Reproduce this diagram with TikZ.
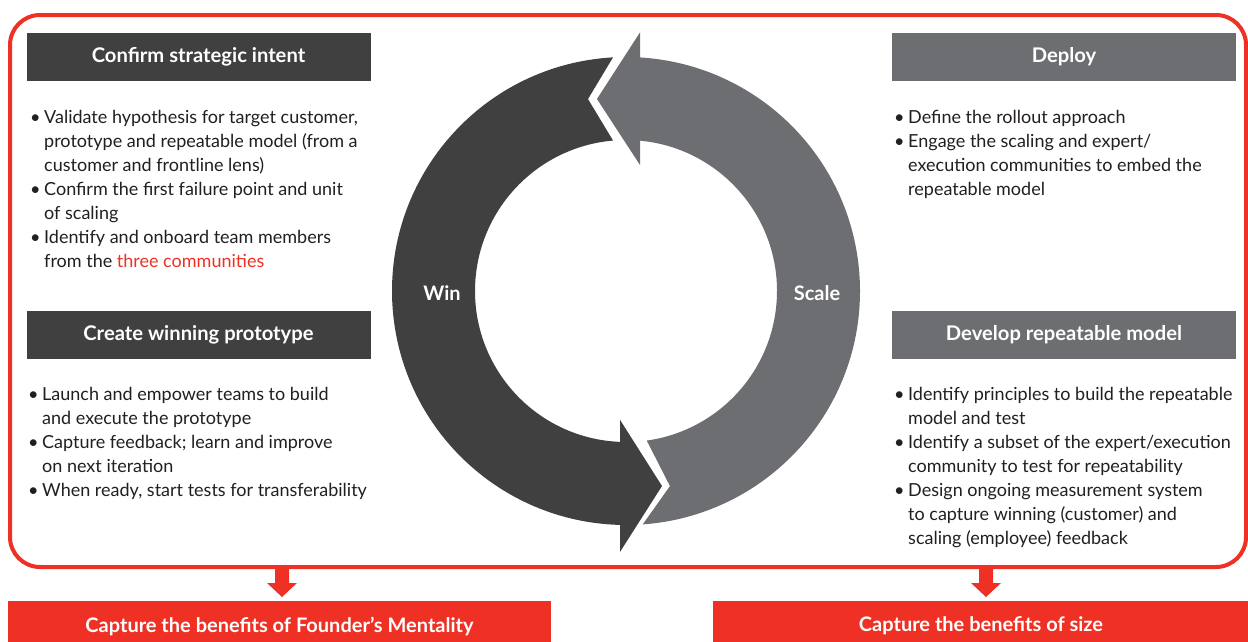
\documentclass[tikz,border=0pt]{standalone}
\usepackage{fontspec}
\setmainfont{Lato}
\usetikzlibrary{calc}
\definecolor{dk}{HTML}{404041}
\definecolor{gr}{HTML}{6D6E71}
\definecolor{rd}{HTML}{EE3124}
\definecolor{tx}{HTML}{231F20}
\newcommand{\bul}{\makebox[14pt][l]{\textbullet}}
\newcommand{\ind}{\hspace*{14pt}}
\begin{document}
\begin{tikzpicture}[x=1pt,y=1pt,
  hdr/.style={minimum width=344pt, minimum height=48pt, inner sep=0pt, text=white, font=\fontsize{20.2}{24}\selectfont\bfseries},
  body/.style={anchor=north west, inner sep=0pt, align=left, text=tx, font=\fontsize{18}{24}\selectfont},
  bar/.style={fill=rd, minimum height=50pt, inner sep=0pt, text=white, font=\fontsize{20}{24}\selectfont\bfseries},
  lbl/.style={text=white, font=\fontsize{20}{24}\selectfont\bfseries},
  frame/.style={draw=rd, line width=4pt, rounded corners=30pt}]
\useasboundingbox (0,0) rectangle (1248,-641);
\fill[white] (0,0) rectangle (1248,-641);
% frame
\draw[frame] (10,-15) rectangle (1246,-567);
% cycle arrows
\begin{scope}[shift={(626,-291)}]
\fill[dk] (93.18:234) arc[start angle=93.18, end angle=268.53, radius=234]
  -- (268.68:261) -- (280.46:198.3) -- (267.34:129) -- (267.72:151)
  arc[start angle=267.72, end angle=94.92, radius=151]
  -- (101.2:195.7) -- cycle;
\fill[gr] (-85.9:234) arc[start angle=-85.9, end angle=86.57, radius=234]
  -- (86.9:259) -- (98.6:194.2) -- (83.66:126.8) -- (84.68:151)
  arc[start angle=84.68, end angle=-82.1, radius=151]
  -- (-77.3:200) -- cycle;
\end{scope}
\node[lbl] (win) at (442,-293) {Win};
\node[lbl] (scale) at (817,-293) {Scale};
% headers
\node[hdr, fill=dk] (h1) at (198.5,-56.5) {Confirm strategic intent};
\node[hdr, fill=dk] (h2) at (198.5,-334.5) {Create winning prototype};
\node[hdr, fill=gr] (h3) at (1064,-56.5) {Deploy};
\node[hdr, fill=gr] (h4) at (1064,-334.5) {Develop repeatable model};
% bodies
\node[body] (t1) at (30,-110) {\bul Validate hypothesis for target customer,\\
\ind prototype and repeatable model (from a\\
\ind customer and frontline lens)\\
\bul Confirm the first failure point and unit\\
\ind of scaling\\
\bul Identify and onboard team members\\
\ind from the \textcolor{rd}{three communities}};
\node[body] (t2) at (28,-387) {\bul Launch and empower teams to build\\
\ind and execute the prototype\\
\bul Capture feedback; learn and improve\\
\ind on next iteration\\
\bul When ready, start tests for transferability};
\node[body] (t3) at (894,-110) {\bul Define the rollout approach\\
\bul Engage the scaling and expert/\\
\ind execution communities to embed the\\
\ind repeatable model};
\node[body] (t4) at (894,-387) {\bul Identify principles to build the repeatable\\
\ind model and test\\
\bul Identify a subset of the expert/execution\\
\ind community to test for repeatability\\
\bul Design ongoing measurement system\\
\ind to capture winning (customer) and\\
\ind scaling (employee) feedback};
% bottom bars
\node[bar, minimum width=543pt] (b1) at (279.5,-626) {Capture the benefits of Founder’s Mentality};
\node[bar, minimum width=536pt] (b2) at (981,-626) {Capture the benefits of size};
\coordinate (a1) at (282,-569);
\coordinate (a2) at (986,-569);
\fill[rd] (a1) ++(-7,0) -- ++(14,0) -- ++(0,-14) -- ++(8,0) -- (282,-597) -- ++(-15,14) -- ++(8,0) -- cycle;
\fill[rd] (a2) ++(-7,0) -- ++(14,0) -- ++(0,-14) -- ++(8,0) -- (986,-597) -- ++(-15,14) -- ++(8,0) -- cycle;
\end{tikzpicture}
\end{document}
